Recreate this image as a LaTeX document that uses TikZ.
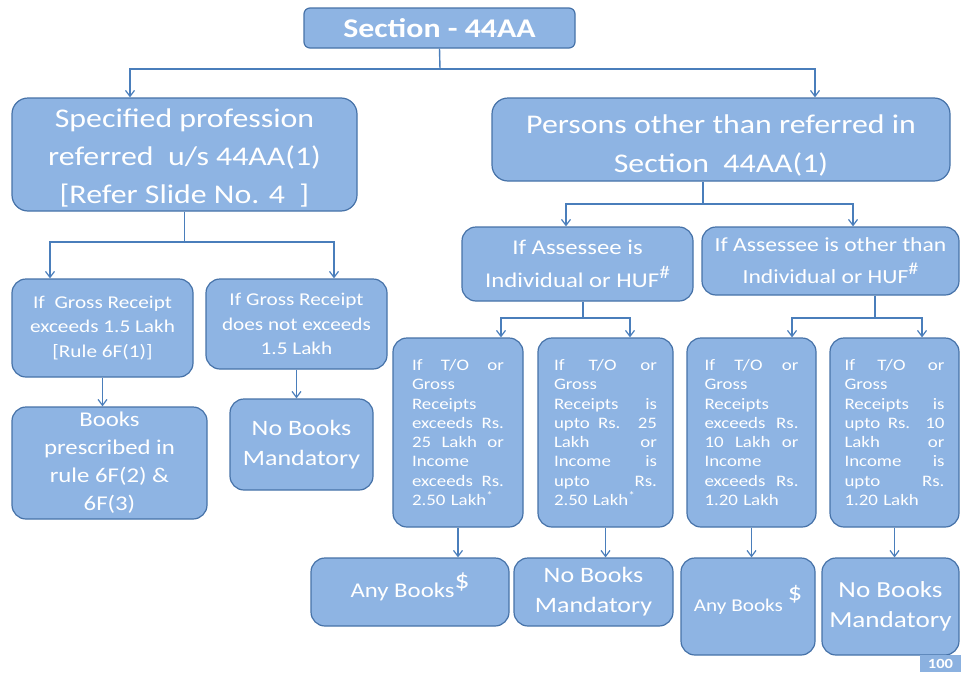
\documentclass[tikz,border=0pt]{standalone}
\usepackage{fontspec}
\setmainfont{Carlito}[FakeStretch=1.18]
\usetikzlibrary{arrows.meta}
\definecolor{bfill}{HTML}{8EB4E3}
\definecolor{bline}{HTML}{4672A8}
\definecolor{cline}{HTML}{4A7EBB}
\definecolor{pgfillc}{HTML}{8BB1E0}
\newcommand{\fs}[2]{\fontsize{#1pt}{#2pt}\selectfont}
\newcommand{\jw}{92pt}
\newcommand{\jl}[1]{\leavevmode\hbox to \jw{\spaceskip=0pt\xspaceskip=0pt\relax #1}}
\tikzset{
 bx/.style={rectangle, rounded corners=14pt, fill=bfill, draw=bline, line width=1.2pt, text=white, align=center, inner sep=0pt},
 small/.style={bx, align=left, font=\fs{16}{19.3}, minimum height=189pt, text width=#1, execute at begin node=\renewcommand{\jw}{#1}},
 ln/.style={draw=cline, line width=1.4pt},
 arr/.style={ln, -{Straight Barb[length=6pt,width=9pt,line width=1.2pt]}},
}
\begin{document}
\begin{tikzpicture}[x=1pt,y=-1pt]
\useasboundingbox (0,0) rectangle (961,672);

% top
\node[bx, rounded corners=6pt, minimum width=271pt, minimum height=40pt, font=\fs{27}{30}\bfseries] (sec) at (439.5,28) {Section - 44AA};

\node[bx, rounded corners=16pt, minimum width=345pt, minimum height=113pt, font=\fs{27}{38}] (spec) at (184.5,154.5) {\rule{0pt}{26pt}Specified profession\\referred~~u/s 44AA(1)\\{[}Refer Slide No. 4~~]};
\node[bx, rounded corners=16pt, minimum width=458pt, minimum height=83pt, font=\fs{27}{39}] (pers) at (721,139.5) {\rule{0pt}{30pt}Persons other than referred in\\Section~~44AA(1)};

\node[bx, minimum width=231pt, minimum height=74pt, font=\fs{21}{33}] (ind) at (577.5,264) {If Assessee is\\Individual or HUF\raisebox{0.45em}{\fs{18}{18}\#}};
\node[bx, minimum width=257pt, minimum height=68pt, font=\fs{20}{32}] (oth) at (830.5,261) {If Assessee is other than\\Individual or HUF\raisebox{0.45em}{\fs{17}{17}\#}};

% left branch
\node[bx, minimum width=181pt, minimum height=98pt, font=\fs{18}{24.5}] (g1) at (102.5,328) {If~~Gross Receipt\\exceeds 1.5 Lakh\\{[}Rule 6F(1)]};
\node[bx, minimum width=181pt, minimum height=90pt, font=\fs{18}{24.5}] (g2) at (296.5,324) {If Gross Receipt\\does not exceeds\\1.5 Lakh};
\node[bx, minimum width=195pt, minimum height=112pt, font=\fs{21}{28}] (books) at (109.5,463) {Books\\prescribed in\\rule 6F(2) \&\\6F(3)};
\node[bx, minimum width=143pt, minimum height=91pt, font=\fs{22}{30}] (nob1) at (301.5,444.5) {No Books\\Mandatory};

% small condition boxes
\node[small=92pt, minimum width=130pt] (A) at (458,432.5) {\jl{If T/O or}\\Gross\\Receipts\\\jl{exceeds Rs.}\\\jl{25 Lakh or}\\Income\\\jl{exceeds Rs.}\\2.50 Lakh\textsuperscript{*}};
\node[small=103pt, minimum width=135pt] (B) at (605.5,432.5) {\jl{If T/O or}\\Gross\\\jl{Receipts is}\\\jl{upto Rs. 25}\\\jl{Lakh or}\\\jl{Income is}\\\jl{upto Rs.}\\2.50 Lakh\textsuperscript{*}};
\node[small=94pt, minimum width=129pt] (C) at (751.5,432.5) {\jl{If T/O or}\\Gross\\Receipts\\\jl{exceeds Rs.}\\\jl{10 Lakh or}\\Income\\\jl{exceeds Rs.}\\1.20 Lakh};
\node[small=100pt, minimum width=129pt] (D) at (894.5,432.5) {\jl{If T/O or}\\Gross\\\jl{Receipts is}\\\jl{upto Rs. 10}\\\jl{Lakh or}\\\jl{Income is}\\\jl{upto Rs.}\\1.20 Lakh};

% bottom results
\node[bx, minimum width=198pt, minimum height=68pt, font=\fs{21}{28}] (ab1) at (410,592) {Any Books\smash{\raisebox{0.45em}{\fs{25}{25}\$}}};
\node[bx, minimum width=159pt, minimum height=68pt, font=\fs{22}{30}] (nb2) at (593.5,592) {No Books\\Mandatory};
\node[bx, minimum width=134pt, minimum height=97pt, font=\fs{18}{20}] (ab2) at (748,606.5) {Any Books~\smash{\raisebox{0.6em}{\fs{24}{24}\$}}};
\node[bx, minimum width=137pt, minimum height=97pt, font=\fs{23}{30}] (nb3) at (890.5,606.5) {No Books\\Mandatory};

\node[rectangle, fill=pgfillc, minimum width=41pt, minimum height=17pt, inner sep=0pt, text=white, font=\fs{14}{14}\bfseries] (pg) at (940.5,663.5) {100};

% connectors
\coordinate (f1) at (440,69); \coordinate (f1l) at (130,69); \coordinate (f1r) at (815,69);
\draw[ln] (sec.south) -- (f1);
\draw[arr] (f1) -- (f1l) -- (f1l |- spec.north);
\draw[arr] (f1) -- (f1r) -- (f1r |- pers.north);

\coordinate (f2) at (184.5,242); \coordinate (f2l) at (50,242); \coordinate (f2r) at (334,242);
\draw[ln] (spec.south) -- (f2);
\draw[arr] (f2) -- (f2l) -- (f2l |- g1.north);
\draw[arr] (f2) -- (f2r) -- (f2r |- g2.north);

\coordinate (f3) at (703,204); \coordinate (f3l) at (566,204); \coordinate (f3r) at (853,204);
\draw[ln] (f3 |- pers.south) -- (f3);
\draw[arr] (f3) -- (f3l) -- (f3l |- ind.north);
\draw[arr] (f3) -- (f3r) -- (f3r |- oth.north);

\coordinate (f4) at (583,318); \coordinate (f4l) at (501,318); \coordinate (f4r) at (630,318);
\draw[ln] (f4 |- ind.south) -- (f4);
\draw[arr] (f4) -- (f4l) -- (f4l |- A.north);
\draw[arr] (f4) -- (f4r) -- (f4r |- B.north);

\coordinate (f5) at (875,318); \coordinate (f5l) at (792,318); \coordinate (f5r) at (922,318);
\draw[ln] (f5 |- oth.south) -- (f5);
\draw[arr] (f5) -- (f5l) -- (f5l |- C.north);
\draw[arr] (f5) -- (f5r) -- (f5r |- D.north);

\draw[arr] (g1.south) -- (g1.south |- books.north);
\draw[arr] (g2.south) -- (g2.south |- nob1.north);
\draw[arr] (A.south) -- (A.south |- ab1.north);
\draw[arr] (B.south) -- (B.south |- nb2.north);
\draw[arr] (C.south) -- (C.south |- ab2.north);
\draw[arr] (D.south) -- (D.south |- nb3.north);
\end{tikzpicture}
\end{document}
